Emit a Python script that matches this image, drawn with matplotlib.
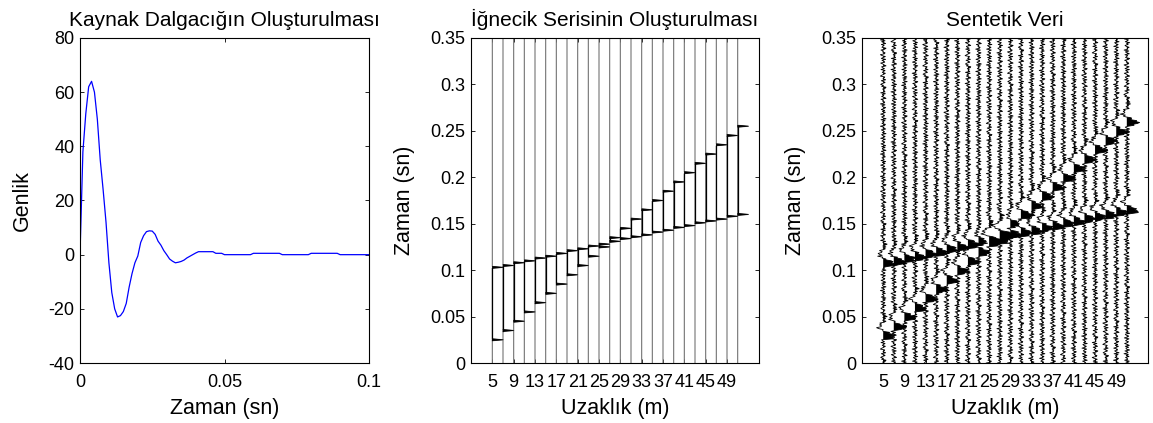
import numpy as np
import matplotlib
matplotlib.use("Agg")
import matplotlib.pyplot as plt

plt.rcParams['font.family'] = ['Liberation Sans', 'DejaVu Sans']
plt.rcParams['axes.unicode_minus'] = False

# ---------------- data ----------------
# source wavelet, sampled every 1 ms from 0 to 100 ms
wavelet_time_ms = list(range(0, 101))
wavelet_amp = [
    0, 38, 52, 62, 64, 60, 50, 35, 24, 12,
    -3, -14, -20, -23, -22.5, -21, -18, -12, -7, -3,
    -0.5, 4.5, 7, 8.5, 8.8, 8.7, 7.5, 5, 3.5, 1.5,
    0, -1.6, -2.4, -3, -2.8, -2.5, -2, -1.2, -0.6, 0,
    0.6, 1.1, 1.1, 1.1, 1.1, 1.1, 1.1, 0.5, 0.5, 0.5,
    0, 0, 0, 0, 0, 0, 0, 0, 0, 0,
    0.5, 0.5, 0.5, 0.5, 0.5, 0.5, 0.5, 0.5, 0.5, 0.5,
    0, 0, 0, 0, 0, 0, 0, 0, 0, 0,
    0.5, 0.5, 0.5, 0.5, 0.5, 0.5, 0.5, 0.5, 0.5, 0.5,
    0, 0, 0, 0, 0, 0, 0, 0, 0, 0, 0,
]

# receiver offsets (m)
offsets_m = [5, 7, 9, 11, 13, 15, 17, 19, 21, 23, 25, 27,
             29, 31, 33, 35, 37, 39, 41, 43, 45, 47, 49, 51]
offset_ticks = [5, 9, 13, 17, 21, 25, 29, 33, 37, 41, 45, 49]

# spike arrival times (s) for the two events
t_event_a = [0.025, 0.035, 0.045, 0.055, 0.065, 0.075, 0.085, 0.095,
             0.105, 0.115, 0.125, 0.135, 0.145, 0.155, 0.165, 0.175,
             0.185, 0.195, 0.205, 0.215, 0.225, 0.235, 0.245, 0.255]
t_event_b = [0.103, 0.105, 0.108, 0.110, 0.113, 0.115, 0.118, 0.121,
             0.123, 0.126, 0.128, 0.131, 0.134, 0.136, 0.138, 0.141,
             0.143, 0.146, 0.148, 0.151, 0.153, 0.155, 0.158, 0.160]

# background noise texture (hand-estimated, relative units)
noise_pattern = [0.4, -0.2, 0.7, 0.9, -0.5, 0.1, -0.8, -0.3, 0.6, 0.2,
                 -0.6, 0.8, -0.1, 0.3, 0.5, -0.9, -0.4, 0.2, 0.7, -0.3,
                 0.1, 0.6, -0.7, 0.4, -0.2, -0.5, 0.9, 0.3, -0.1, -0.8,
                 0.5, 0.2, -0.4, 0.8, -0.6, 0.0, 0.7, -0.3, -0.9, 0.4,
                 0.6, -0.2, 0.1, -0.7, 0.5, 0.9, -0.4, -0.1, 0.3, -0.6,
                 0.8, 0.2, -0.5, 0.6, -0.9, 0.3, 0.1, 0.7, -0.2, -0.6,
                 0.4, -0.1, 0.9, -0.5, 0.2, 0.5, -0.8, 0.0, 0.6, -0.3,
                 0.8, -0.7, 0.3, 0.1, -0.4, 0.7, -0.2, 0.5, -0.9, 0.4,
                 0.2, -0.6, 0.9, -0.1, -0.3, 0.6, -0.5, 0.8, 0.1, -0.7,
                 0.3, 0.5, -0.4, 0.0, 0.7, -0.8, 0.2, 0.6, -0.2, -0.5,
                 0.9, -0.3, 0.4, 0.1, -0.6, 0.8, -0.1, 0.3, -0.9, 0.5,
                 0.7, -0.4, 0.2, -0.2, 0.6, -0.7, 0.9, 0.0, -0.5, 0.4,
                 0.3, -0.8, 0.1, 0.7, -0.3, 0.5, -0.6, 0.2, 0.8, -0.1,
                 -0.4, 0.6, -0.9, 0.3, 0.5, -0.2, 0.1, -0.7, 0.9, 0.4,
                 -0.5, 0.2, -0.3, 0.7, -0.8, 0.6, 0.1]
noise_shift = [0, 37, 74, 111, 11, 48, 85, 122, 22, 59, 96, 133,
               3, 40, 77, 114, 14, 51, 88, 125, 25, 62, 99, 136]
noise_level = 19.0

record_length_s = 0.35
dt_s = 0.001

# ---------------- figure ----------------
fig = plt.figure(figsize=(11.53, 4.23), dpi=100)
W, H = 1153, 423
def axes_px(x0, x1, ytop, ybot):
    return fig.add_axes([x0 / W, 1 - ybot / H, (x1 - x0) / W, (ybot - ytop) / H])

ax1 = axes_px(80, 369, 38, 363)
ax2 = axes_px(471, 759, 38, 363)
ax3 = axes_px(862, 1148, 38, 363)

TICK_FS = 13
LAB_FS = 15.5
TIT_FS = 15

def style(ax):
    ax.tick_params(direction='in', length=3, width=0.6, top=True, right=True,
                   labelsize=TICK_FS)
    ax.tick_params(axis='x', pad=8)
    ax.tick_params(axis='y', pad=4)
    for s in ax.spines.values():
        s.set_linewidth(0.8)

# ----- panel 1: wavelet -----
t_w = np.array(wavelet_time_ms) / 1000.0
ax1.plot(t_w, wavelet_amp, color='#0000ff', lw=0.9)
ax1.set_xlim(0, 0.1)
ax1.set_ylim(-40, 80)
ax1.set_xticks([0, 0.05, 0.1])
ax1.set_xticklabels(['0', '0.05', '0.1'])
ax1.set_yticks([-40, -20, 0, 20, 40, 60, 80])
style(ax1)
ax1.set_title('Kaynak Dalgacığın Oluşturulması', fontsize=TIT_FS, pad=9)
ax1.set_xlabel('Zaman (sn)', fontsize=LAB_FS, labelpad=5)
ax1.set_ylabel('Genlik', fontsize=LAB_FS, labelpad=11)

# ----- time axis and reflectivity -----
n = int(round(record_length_s / dt_s)) + 1
t = np.arange(n) * dt_s
spacing = offsets_m[1] - offsets_m[0]

def reflectivity(ta, tb):
    r = np.zeros(n)
    r[int(round(ta / dt_s))] += 1.0
    r[int(round(tb / dt_s))] += 1.0
    return r

ytick_vals = [0, 0.05, 0.1, 0.15, 0.2, 0.25, 0.3, 0.35]
ytick_labs = ['0', '0.05', '0.1', '0.15', '0.2', '0.25', '0.3', '0.35']

# ----- panel 2: spike series -----
spike_scale = 1.0 * spacing
for x0, ta, tb in zip(offsets_m, t_event_a, t_event_b):
    r = reflectivity(ta, tb)
    xs = x0 + r * spike_scale
    ax2.plot(xs, t, color='0.45', lw=0.8, zorder=2)
    lo, hi = min(ta, tb), max(ta, tb)
    seg = (t >= lo) & (t <= hi)
    ax2.plot(np.full(seg.sum(), x0), t[seg], color='k', lw=0.9, zorder=3)
    ax2.fill_betweenx(t, x0, xs, where=r > 0, facecolor='k', edgecolor='k',
                      lw=0.5, interpolate=True, zorder=4)
ax2.set_xlim(offsets_m[0] - 2 * spacing, offsets_m[-1] + 2 * spacing)
ax2.set_ylim(0, record_length_s)
ax2.set_xticks(offset_ticks)
ax2.set_yticks(ytick_vals)
ax2.set_yticklabels(ytick_labs)
style(ax2)
ax2.set_title('İğnecik Serisinin Oluşturulması', fontsize=TIT_FS, pad=9)
ax2.set_xlabel('Uzaklık (m)', fontsize=LAB_FS, labelpad=5)
ax2.set_ylabel('Zaman (sn)', fontsize=LAB_FS, labelpad=11)

# ----- panel 3: synthetic data -----
wav = np.array(wavelet_amp, dtype=float)
noise_base = np.resize(np.array(noise_pattern), n)
synth_scale = 2.0 * spacing / 2 / max(wavelet_amp)
for x0, ta, tb, sh in zip(offsets_m, t_event_a, t_event_b, noise_shift):
    r = reflectivity(ta, tb)
    s = np.convolve(r, wav)[:n] + noise_level * np.roll(noise_base, sh)
    xs = x0 + s * synth_scale
    ax3.fill_betweenx(t, x0, xs, where=s > 0, color='k', lw=0, interpolate=True)
    ax3.plot(xs, t, color='k', lw=0.6)
ax3.set_xlim(offsets_m[0] - 2 * spacing, offsets_m[-1] + 2 * spacing)
ax3.set_ylim(0, record_length_s)
ax3.set_xticks(offset_ticks)
ax3.set_yticks(ytick_vals)
ax3.set_yticklabels(ytick_labs)
style(ax3)
ax3.set_title('Sentetik Veri', fontsize=TIT_FS, pad=9)
ax3.set_xlabel('Uzaklık (m)', fontsize=LAB_FS, labelpad=5)
ax3.set_ylabel('Zaman (sn)', fontsize=LAB_FS, labelpad=11)

fig.savefig('out.png', dpi=100, facecolor='white')
